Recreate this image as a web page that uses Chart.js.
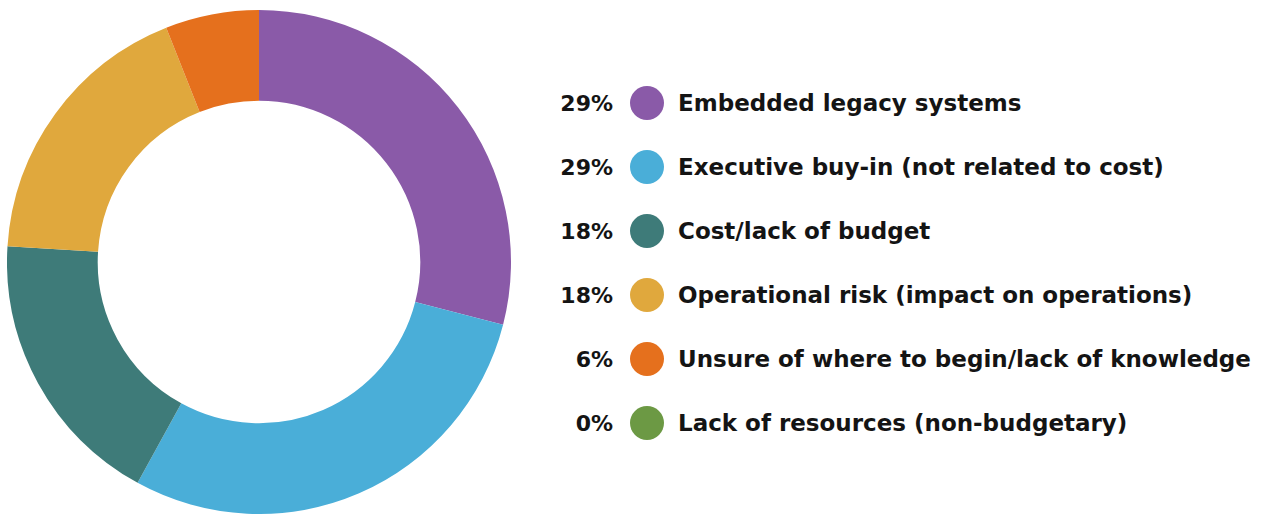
<!DOCTYPE html>
<html>
<head>
<meta charset="utf-8">
<script src="https://cdn.jsdelivr.net/npm/chart.js@4"></script>
<style>
  body { margin: 0; background: #fff; width: 1268px; height: 517px; overflow: hidden; position: relative; }
  #donut { position: absolute; left: 7px; top: 10px; width: 504px; height: 504px; }
  #legend { position: absolute; left: 540px; top: 71px; font-family: "DejaVu Sans", sans-serif; font-weight: bold; color: #141414; }
  .row { display: flex; align-items: center; height: 64px; }
  .pct { width: 73px; text-align: right; font-size: 22px; }
  .dot { width: 34px; height: 34px; border-radius: 50%; margin: 0 14px 0 17px; }
  .lbl { font-size: 23px; white-space: nowrap; }
</style>
</head>
<body>
<div id="donut"><canvas id="chart"></canvas></div>
<div id="legend"></div>
<script>
var categories = [
  "Embedded legacy systems",
  "Executive buy-in (not related to cost)",
  "Cost/lack of budget",
  "Operational risk (impact on operations)",
  "Unsure of where to begin/lack of knowledge",
  "Lack of resources (non-budgetary)"
];
var shares = [29, 29, 18, 18, 6, 0];
var colors = ["#8a5aa8", "#4aaed8", "#3e7b79", "#e0a83d", "#e5701d", "#6c9944"];

// legend rows: percent, colour dot, label
var legend = document.getElementById("legend");
categories.forEach(function(name, i) {
  var row = document.createElement("div");
  row.className = "row";
  row.innerHTML = '<span class="pct">' + shares[i] + '%</span>' +
    '<span class="dot" style="background:' + colors[i] + '"></span>' +
    '<span class="lbl">' + name + '</span>';
  legend.appendChild(row);
});

var chart = new Chart("chart", {
  type: "doughnut",
  data: {
    labels: categories,
    datasets: [{
      data: shares,
      backgroundColor: colors,
      borderWidth: 0
    }]
  },
  options: {
    responsive: true,
    maintainAspectRatio: false,
    animation: false,
    cutout: "64%",
    layout: { padding: 0 },
    plugins: {
      legend: { display: false },
      tooltip: { enabled: false }
    }
  }
});
</script>
</body>
</html>
